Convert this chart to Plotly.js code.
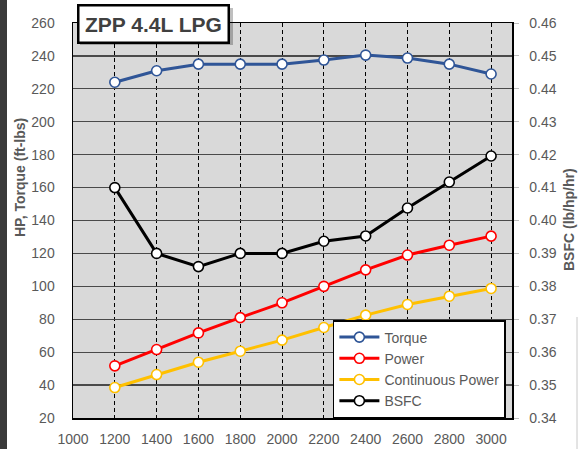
<!DOCTYPE html>
<html>
<head>
<meta charset="utf-8">
<script src="https://cdn.plot.ly/plotly-3.0.1.min.js"></script>
<style>
html,body{margin:0;padding:0;background:#fff;}
#chart{width:578px;height:449px;}
</style>
</head>
<body>
<div id="chart"></div>
<script>
const rpm = [1200, 1400, 1600, 1800, 2000, 2200, 2400, 2600, 2800, 3000];
const torque = [224, 231, 235, 235, 235, 237.5, 240.5, 238.7, 235, 229];
const power = [51.7, 61.6, 71.7, 81, 90, 100, 110, 119, 125, 130.5];
const continuousPower = [38.5, 46.4, 53.9, 60.6, 67.3, 75, 82.5, 89, 94, 98.7];
const bsfc = [0.410, 0.390, 0.386, 0.390, 0.390, 0.3937, 0.3953, 0.4038, 0.4117, 0.4196];
const xTicks = [1000, 1200, 1400, 1600, 1800, 2000, 2200, 2400, 2600, 2800, 3000];

const FONT = 'Liberation Sans, Arial, sans-serif';
const GRAY = '#595959';

function series(name, y, color, axis) {
  return {
    x: rpm, y: y, name: name, type: 'scatter', mode: 'lines+markers',
    yaxis: axis,
    line: {color: color, width: 3},
    marker: {symbol: 'circle', size: 10, color: '#ffffff', line: {color: color, width: 1.6}}
  };
}

const data = [
  series('Torque', torque, '#2F5597', 'y'),
  series('Power', power, '#FF0000', 'y'),
  series('Continuous Power', continuousPower, '#FFC000', 'y'),
  series('BSFC', bsfc, '#000000', 'y2')
];

const layout = {
  width: 578, height: 449,
  margin: {l: 73, r: 66, t: 23, b: 31, pad: 0},
  paper_bgcolor: '#ffffff',
  plot_bgcolor: '#D9D9D9',
  font: {family: FONT, size: 14, color: GRAY},
  showlegend: true,
  legend: {
    x: 0.592, y: 0.0, xanchor: 'left', yanchor: 'bottom',
    bgcolor: '#ffffff', bordercolor: '#000000', borderwidth: 1.5,
    font: {family: FONT, size: 14, color: GRAY},
    tracegroupgap: 0, itemwidth: 40
  },
  xaxis: {
    range: [1000, 3100],
    tickmode: 'array', tickvals: xTicks, ticktext: xTicks.map(String),
    showgrid: true, gridcolor: '#000000', gridwidth: 1, griddash: '4px,3px',
    showline: true, linecolor: '#000000', linewidth: 1.5, mirror: true,
    ticks: '', ticklabelstandoff: 8,
    zeroline: false,
    tickfont: {family: FONT, size: 14, color: GRAY}
  },
  yaxis: {
    range: [20, 260], dtick: 20, tick0: 20,
    showgrid: true, gridcolor: '#4a4a4a', gridwidth: 1.3,
    showline: true, linecolor: '#000000', linewidth: 1.5,
    ticks: '', ticklabelstandoff: 14,
    zeroline: false,
    tickfont: {family: FONT, size: 14, color: GRAY}
  },
  yaxis2: {
    overlaying: 'y', side: 'right',
    range: [0.34, 0.46], dtick: 0.01, tick0: 0.34, tickformat: '.2f',
    showgrid: false, zeroline: false,
    showline: true, linecolor: '#000000', linewidth: 1.5,
    ticks: 'outside', ticklen: 5, tickcolor: '#bfbfbf', tickwidth: 1,
    ticklabelstandoff: 8,
    tickfont: {family: FONT, size: 14, color: GRAY}
  },
  shapes: [
    {type: 'rect', xref: 'paper', yref: 'paper', x0: -0.17, x1: (7 - 73) / 439, y0: -0.2, y1: 1.1,
     fillcolor: '#3a3a3a', line: {width: 0}, layer: 'below'},
    {type: 'line', xref: 'paper', yref: 'paper', x0: (577 - 73) / 439, x1: (577 - 73) / 439,
     y0: 1 - (317 - 23) / 395, y1: -0.1, line: {color: '#c8c8c8', width: 1}},
    {type: 'rect', xref: 'paper', yref: 'paper',
     x0: (80 - 73) / 439, x1: (233 - 73) / 439, y0: 1 - (45 - 23) / 395, y1: 1 - (8 - 23) / 395,
     fillcolor: 'rgba(0,0,0,0.25)', line: {width: 0}, layer: 'above'}
  ],
  annotations: [
    {text: '<b>ZPP 4.4L LPG</b>', xref: 'paper', yref: 'paper',
     x: (153.5 - 73) / 439, y: 1 - (23.5 - 23) / 395, xanchor: 'center', yanchor: 'middle',
     showarrow: false, font: {family: FONT, size: 21, color: '#404040'},
     bgcolor: '#ffffff', bordercolor: '#000000', borderwidth: 2.5, borderpad: 3,
     width: 142, height: 29},
    {text: '<b>HP, Torque (ft-lbs)</b>', xref: 'paper', yref: 'paper',
     x: (20 - 73) / 439, y: 1 - (178 - 23) / 395, xanchor: 'center', yanchor: 'middle',
     textangle: -90, showarrow: false, font: {family: FONT, size: 14, color: GRAY}},
    {text: '<b>BSFC (lb/hp/hr)</b>', xref: 'paper', yref: 'paper',
     x: (569 - 73) / 439, y: 1 - (220 - 23) / 395, xanchor: 'center', yanchor: 'middle',
     textangle: -90, showarrow: false, font: {family: FONT, size: 14, color: GRAY}},
    {text: '<b>RPM</b>', xref: 'paper', yref: 'paper',
     x: (294 - 73) / 439, y: 1 + (23 - 4) / 395, xanchor: 'center', yanchor: 'bottom',
     showarrow: false, font: {family: FONT, size: 14, color: GRAY}}
  ]
};

Plotly.newPlot('chart', data, layout, {displayModeBar: false, staticPlot: true});
</script>
</body>
</html>
